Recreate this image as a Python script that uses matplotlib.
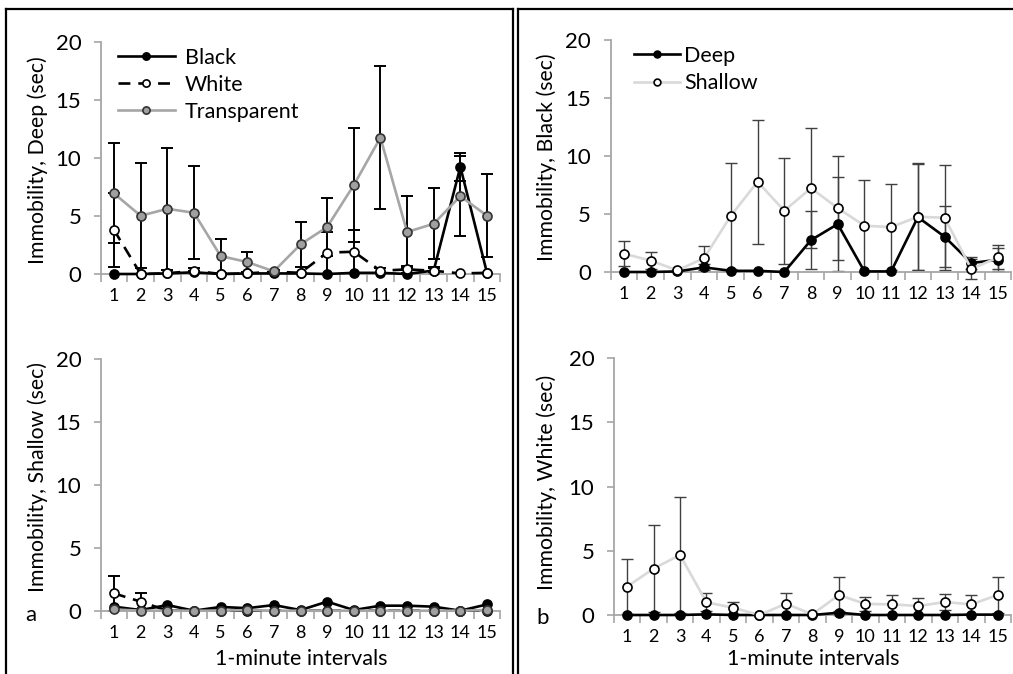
import numpy as np
import matplotlib
matplotlib.use("Agg")
import matplotlib.pyplot as plt
from matplotlib.lines import Line2D

plt.rcParams['font.family'] = ['Lato', 'DejaVu Sans']

# ---------------- data ----------------
intervals = np.arange(1, 16)
tick_labels = [str(i) for i in range(1, 16)]

# Panel a (top): Deep
deep_black = [0, 0, 0.05, 0.15, 0, 0.05, 0.05, 0.05, 0, 0.1, 0.1, 0, 0.3, 9.24, 0.1]
deep_black_err = [0, 0, 0.05, 0.15, 0, 0.05, 0.05, 0.05, 0, 0.1, 0.1, 0, 0.3, 1.23, 0.1]
deep_white = [3.79, 0, 0.05, 0.28, 0, 0.05, 0.2, 0.1, 1.84, 1.92, 0.28, 0.4, 0.28, 0.05, 0.1]
deep_white_err = [3.16, 0, 0.05, 0.2, 0, 0.05, 0.15, 0.1, 1.8, 1.9, 0.2, 0.3, 0.2, 0.05, 0.1]
deep_transp = [6.94, 5.02, 5.62, 5.28, 1.55, 1.03, 0.23, 2.55, 4.05, 7.66, 11.76, 3.62, 4.33, 6.71, 5.02]
deep_transp_err = [4.31, 4.54, 5.25, 4.02, 1.43, 0.9, 0.1, 1.93, 2.49, 4.94, 6.15, 3.07, 3.07, 3.45, 3.56]

# Panel a (bottom): Shallow
sh_black = [0.32, 0.05, 0.45, 0, 0.3, 0.2, 0.45, 0.05, 0.72, 0.05, 0.4, 0.4, 0.32, 0, 0.5]
sh_black_err = [0, 0, 0, 0, 0, 0, 0, 0, 0, 0, 0, 0, 0, 0, 0]
sh_white = [1.38, 0.72, 0, 0, 0, 0, 0, 0, 0, 0, 0, 0, 0, 0, 0]
sh_white_err = [1.41, 0.66, 0, 0, 0, 0, 0, 0, 0, 0, 0, 0, 0, 0, 0]
sh_transp = [0.1, 0, 0, 0, 0, 0.05, 0, 0, 0, 0, 0, 0, 0, 0, 0.05]

# Panel b (top): Black
bl_deep = [0, 0, 0.05, 0.4, 0.1, 0.1, 0, 2.75, 4.13, 0.05, 0.05, 4.73, 3.04, 0.77, 1.06]
bl_deep_err = [0, 0, 0.05, 0.3, 0.1, 0.1, 0, 2.53, 4.02, 0.05, 0.05, 4.6, 2.61, 0.52, 1.0]
bl_shallow = [1.58, 0.98, 0.14, 1.2, 4.85, 7.78, 5.28, 7.23, 5.51, 3.99, 3.87, 4.76, 4.68, 0.26, 1.26]
bl_shallow_err = [1.09, 0.71, 0.1, 1.07, 4.56, 5.33, 4.59, 5.17, 4.45, 3.96, 3.68, 4.62, 4.53, 0.9, 1.04]

# Panel b (bottom): White
wh_deep = [0, 0, 0, 0.05, 0, 0, 0, 0, 0.18, 0, 0, 0, 0, 0.03, 0.03]
wh_deep_err = [0, 0, 0, 0.05, 0, 0, 0, 0, 0.15, 0, 0, 0, 0, 0.03, 0.03]
wh_shallow = [2.21, 3.61, 4.68, 0.99, 0.57, 0, 0.88, 0.05, 1.56, 0.86, 0.83, 0.7, 1.01, 0.83, 1.56]
wh_shallow_err = [2.13, 3.4, 4.54, 0.7, 0.47, 0, 0.81, 0.05, 1.4, 0.57, 0.73, 0.6, 0.63, 0.73, 1.43]

# ---------------- figure ----------------
W, H = 1013, 674
fig = plt.figure(figsize=(W / 100, H / 100), dpi=100)
fig.patch.set_facecolor('white')

AXIS_C = '#a6a6a6'
FS_TICK_Y = 16
FS_TICK_X = 13
FS_LAB = 15.3
FS_LEG = 15.5


def make_ax(x0, x1, y0, y20):
    ax = fig.add_axes([x0 / W, 1 - y0 / H, (x1 - x0) / W, (y0 - y20) / H])
    ax.set_xlim(0.5, 15.5)
    ax.set_ylim(0, 20)
    for s in ('top', 'right'):
        ax.spines[s].set_visible(False)
    for s in ('left', 'bottom'):
        ax.spines[s].set_color(AXIS_C)
        ax.spines[s].set_linewidth(1.3)
    ax.set_xticks(np.arange(0.5, 16, 1))
    ax.set_xticklabels([])
    ax.set_xticks(intervals, minor=True)
    ax.set_xticklabels(tick_labels, minor=True)
    ax.tick_params(axis='x', which='major', direction='out', length=5.5,
                   width=1.2, color=AXIS_C)
    ax.tick_params(axis='x', which='minor', length=0, pad=10, labelsize=FS_TICK_X)
    ax.set_yticks([0, 5, 10, 15, 20])
    ax.tick_params(axis='y', direction='out', length=5, width=1.2,
                   color=AXIS_C, pad=9, labelsize=FS_TICK_Y)
    ax.patch.set_alpha(0)
    return ax


def ebar(ax, y, err, color, lw):
    y = np.asarray(y, float)
    err = np.asarray(err, float)
    m = err > 0.12
    if m.any():
        ax.errorbar(intervals[m], y[m], yerr=err[m], fmt='none', ecolor=color,
                    elinewidth=lw, capsize=4.5, capthick=lw, zorder=1, clip_on=False)


MS = 6.5
MEW = 1.2

# ---- top-left: Deep ----
ax1 = make_ax(100.7, 500.3, 274, 42)
for y, e in ((deep_black, deep_black_err), (deep_white, deep_white_err),
             (deep_transp, deep_transp_err)):
    ebar(ax1, y, e, 'black', 1.4)
ax1.plot(intervals, deep_black, '-', color='black', lw=1.9, marker='o', ms=MS,
         mfc='black', mec='black', mew=MEW, zorder=3, clip_on=False, label='Black')
ax1.plot(intervals, deep_white, color='black', lw=1.9, ls=(0, (4.5, 3)), marker='o',
         ms=MS, mfc='white', mec='black', mew=MEW, zorder=4, clip_on=False, label='White')
ax1.plot(intervals, deep_transp, '-', color='#a6a6a6', lw=1.9, marker='o', ms=MS,
         mfc='#a0a0a0', mec='#333333', mew=MEW, zorder=5, clip_on=False, label='Transparent')
ax1.legend(loc='upper left', bbox_to_anchor=(0.043, 0.975), borderaxespad=0,
           borderpad=0, frameon=False, fontsize=FS_LEG, handlelength=2.65,
           handletextpad=0.45, labelspacing=0.32, markerscale=0.8)

# ---- bottom-left: Shallow ----
ax3 = make_ax(100.7, 500.3, 610.7, 359.3)
for y, e in ((sh_black, sh_black_err), (sh_white, sh_white_err)):
    ebar(ax3, y, e, 'black', 1.4)
ax3.plot(intervals, sh_black, '-', color='black', lw=1.9, marker='o', ms=MS,
         mfc='black', mec='black', mew=MEW, zorder=3, clip_on=False)
ax3.plot(intervals, sh_white, color='black', lw=1.9, ls=(0, (4.5, 3)), marker='o',
         ms=MS, mfc='white', mec='black', mew=MEW, zorder=4, clip_on=False)
ax3.plot(intervals, sh_transp, '-', color='#a6a6a6', lw=1.9, marker='o', ms=MS,
         mfc='#a0a0a0', mec='#333333', mew=MEW, zorder=5, clip_on=False)

# ---- top-right: Black ----
ax2 = make_ax(610.6, 1011.4, 272, 40)
ebar(ax2, bl_deep, bl_deep_err, '#404040', 1.0)
ebar(ax2, bl_shallow, bl_shallow_err, '#404040', 1.0)
ax2.plot(intervals, bl_deep, '-', color='black', lw=1.9, marker='o', ms=MS,
         mfc='black', mec='black', mew=MEW, zorder=3, clip_on=False, label='Deep')
ax2.plot(intervals, bl_shallow, '-', color='#d9d9d9', lw=1.9, marker='o', ms=MS,
         mfc='white', mec='black', mew=MEW, zorder=4, clip_on=False, label='Shallow')
ax2.legend(loc='upper left', bbox_to_anchor=(0.058, 0.975), borderaxespad=0,
           borderpad=0, frameon=False, fontsize=FS_LEG, handlelength=2.15,
           handletextpad=0.2, labelspacing=0.35, markerscale=0.75)

# ---- bottom-right: White ----
ax4 = make_ax(613.8, 1011.0, 615, 358.3)
ebar(ax4, wh_deep, wh_deep_err, '#404040', 1.0)
ebar(ax4, wh_shallow, wh_shallow_err, '#404040', 1.0)
ax4.plot(intervals, wh_deep, '-', color='black', lw=1.9, marker='o', ms=MS,
         mfc='black', mec='black', mew=MEW, zorder=3, clip_on=False)
ax4.plot(intervals, wh_shallow, '-', color='#d9d9d9', lw=1.9, marker='o', ms=MS,
         mfc='white', mec='black', mew=MEW, zorder=4, clip_on=False)


def ftext(x, y, s, **kw):
    fig.text(x / W, 1 - y / H, s, **kw)


# y labels
ftext(38, 160, 'Immobility, Deep (sec)', rotation=90, ha='center', va='center', fontsize=FS_LAB)
ftext(38, 477, 'Immobility, Shallow (sec)', rotation=90, ha='center', va='center', fontsize=FS_LAB)
ftext(547, 157, 'Immobility, Black (sec)', rotation=90, ha='center', va='center', fontsize=FS_LAB)
ftext(547, 482, 'Immobility, White (sec)', rotation=90, ha='center', va='center', fontsize=FS_LAB)
# x labels
ftext(301, 659, '1-minute intervals', ha='center', va='center', fontsize=FS_LEG)
ftext(813, 659, '1-minute intervals', ha='center', va='center', fontsize=FS_LEG)
# panel letters
ftext(31, 615, 'a', ha='center', va='center', fontsize=16)
ftext(543, 618, 'b', ha='center', va='center', fontsize=16)


# frame boxes
def fline(xs, ys, lw=1.6):
    fig.add_artist(Line2D([x / W for x in xs], [1 - y / H for y in ys],
                          transform=fig.transFigure, color='black', lw=lw,
                          solid_capstyle='projecting'))


fline([6, 6], [9, 680])
fline([6, 512.5], [9, 9])
fline([512.5, 512.5], [9, 680])
fline([517.5, 517.5], [9, 680])
fline([517.5, 1020], [9, 9])

fig.savefig('out.png', dpi=100, facecolor='white')
